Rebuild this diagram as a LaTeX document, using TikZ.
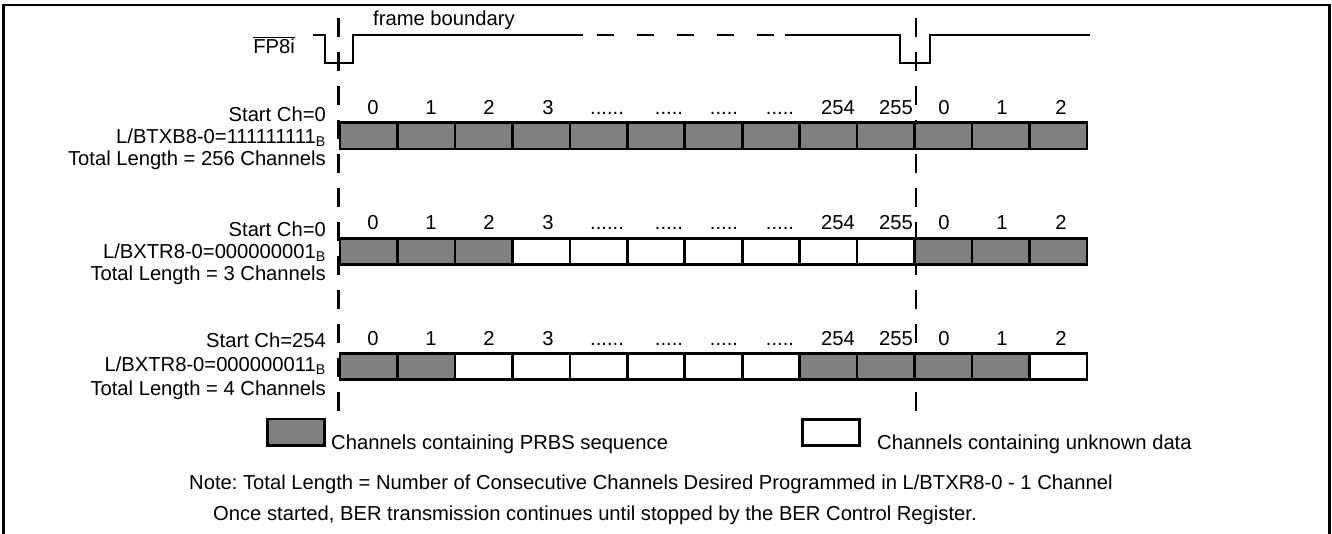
\documentclass[tikz,border=0pt]{standalone}
\usepackage{fontspec}
\setmainfont{Liberation Sans}

\newcommand{\gapsix}{......}
\newcommand{\gapfive}{.....}

\tikzset{
	every chan/.style={draw, line width=2.6pt, minimum width=57.46pt, minimum height=26.4pt, inner sep=0pt, outer sep=0pt},
	chan p/.style={fill=gray},
	chan u/.style={fill=white},
	lbl/.style={inner sep=0pt, font=\fontsize{20.2}{21.9}\selectfont\frenchspacing},
	signal/.style={line width=2.6pt},
	boundary/.style={line width=2.6pt, dash pattern=on 19pt off 15pt},
	frame/.style={line width=2.6pt}
}

\begin{document}
\begin{tikzpicture}[x=1pt, y=-1pt]
		\useasboundingbox (0,0) rectangle (1332,534);
		\draw [frame] (3.5,534) -- (3.5,5) -- (1329.5,5) -- (1329.5,534);

		% frame pulse
		\node [lbl, anchor=east] (fp8i) at (295,45) {$\overline{\mbox{FP8i}}$};
		\node [lbl, anchor=base west] (fb-text) at (373,26) {frame boundary};
		\draw [signal] (313,35) -- (325,35) -- (325,63) -- (353,63) -- (353,35) -- (583,35);
		\draw [signal, dash pattern=on 17pt off 23pt] (597,35) -- (774,35);
		\draw [signal] (785,35) -- (900,35) -- (900,63) -- (930,63) -- (930,35) -- (1090,35);

		\foreach \x [count=\k] in {338.5,916}
		{
			\coordinate (fb-\k-top) at (\x,18);
			\coordinate (fb-\k-bot) at (\x,418);
			\draw [boundary] (fb-\k-top) -- (fb-\k-bot);
		}

		% channel rows
		\foreach \f [count=\i] in {p,p,p,p,p,p,p,p,p,p,p,p,p}
		\node [every chan/.try, chan \f/.try] (ch1-\i) at ({311.27+57.46*\i},136) {};

		\foreach \f [count=\i] in {p,p,p,u,u,u,u,u,u,u,p,p,p}
		\node [every chan/.try, chan \f/.try] (ch2-\i) at ({311.27+57.46*\i},251.5) {};

		\foreach \f [count=\i] in {p,p,u,u,u,u,u,u,p,p,p,p,u}
		\node [every chan/.try, chan \f/.try] (ch3-\i) at ({311.27+57.46*\i},366.5) {};

		\foreach \y/\r in {115/1,230/2,345/3}
		\foreach \x/\l [count=\i] in {373/0,431/1,489/2,548/3,607/\gapsix,669/\gapfive,724/\gapfive,780/\gapfive,838/254,896/255,944/0,1002/1,1061/2}
		\node [lbl, anchor=base] (num\r-\i) at (\x,\y) {\l};

		\node [lbl, anchor=east, align=right] (row1-text) at (326,138)
		{Start Ch=0\\L/BTXB8-0=111111111\textsubscript{B}\\Total Length = 256 Channels};
		\node [lbl, anchor=east, align=right] (row2-text) at (326,253.5)
		{Start Ch=0\\L/BXTR8-0=000000001\textsubscript{B}\\Total Length = 3 Channels};
		\node [lbl, anchor=east, align=right] (row3-text) at (326,366)
		{Start Ch=254\\[2.3pt]L/BXTR8-0=000000011\textsubscript{B}\\[2.3pt]Total Length = 4 Channels};

		% legend
		\node [every chan/.try, chan p/.try] (key-prbs) at (296,432) {};
		\node [lbl, anchor=base west] (key-prbs-text) at (331,449) {Channels containing PRBS sequence};
		\node [every chan/.try, chan u/.try] (key-unknown) at (831,432.5) {};
		\node [lbl, anchor=base west] (key-unknown-text) at (877,449) {Channels containing unknown data};

		\node [lbl, anchor=base west] (note) at (189,489)
		{Note: Total Length = Number of Consecutive Channels Desired Programmed in L/BTXR8-0 - 1 Channel};
		\node [lbl, anchor=base west] (once) at (213,520)
		{Once started, BER transmission continues until stopped by the BER Control Register.};
	\end{tikzpicture}
\end{document}
